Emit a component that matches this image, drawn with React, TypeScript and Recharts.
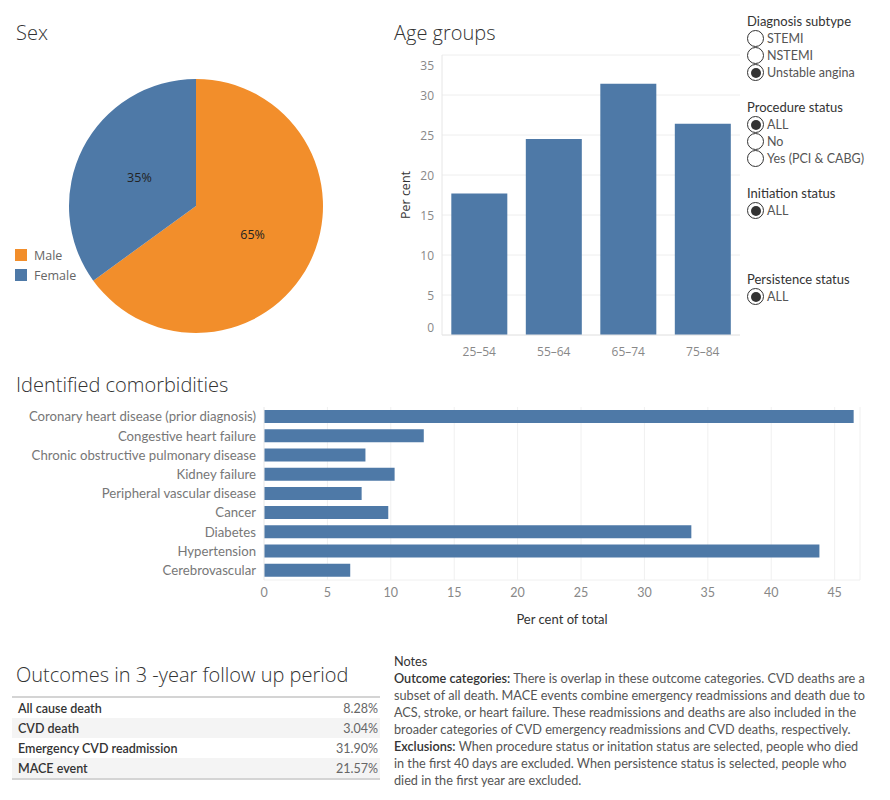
import React from 'react';
import { PieChart, Pie, Cell, BarChart, Bar, XAxis, YAxis, CartesianGrid } from 'recharts';

const sexLabels = ['Male', 'Female'];
const sexShares = [65, 35];

const ageGroups = ['25–54', '55–64', '65–74', '75–84'];
const agePercents = [17.7, 24.5, 31.4, 26.4];
const ageTicks = [0, 5, 10, 15, 20, 25, 30, 35];

const comorbidities = [
    'Coronary heart disease (prior diagnosis)',
    'Congestive heart failure',
    'Chronic obstructive pulmonary disease',
    'Kidney failure',
    'Peripheral vascular disease',
    'Cancer',
    'Diabetes',
    'Hypertension',
    'Cerebrovascular',
];
const comorbidityPercents = [46.5, 12.6, 8.0, 10.3, 7.7, 9.8, 33.7, 43.8, 6.8];
const totalTicks = [0, 5, 10, 15, 20, 25, 30, 35, 40, 45];

const outcomeNames = ['All cause death', 'CVD death', 'Emergency CVD readmission', 'MACE event'];
const outcomeRates = [8.28, 3.04, 31.9, 21.57];

const diagnosisOptions = ['STEMI', 'NSTEMI', 'Unstable angina'];
const procedureOptions = ['ALL', 'No', 'Yes (PCI & CABG)'];
const initiationOptions = ['ALL'];
const persistenceOptions = ['ALL'];

const BLUE = '#4e79a7';
const ORANGE = '#f28e2b';
const TITLE_FONT = '"Open Sans", sans-serif';
const BOOK_FONT = 'Lato, "Open Sans", sans-serif';
const RAD = Math.PI / 180;

const sexData = sexLabels.map((name, i) => ({ name, value: sexShares[i] }));
const ageData = ageGroups.map((group, i) => ({ group, pct: agePercents[i] }));
const comorbidityData = comorbidities.map((name, i) => ({ name, pct: comorbidityPercents[i] }));

const Title = ({ text, left, top }: { text: string; left: number; top: number }) => (
    <div style={{
        position: 'absolute', left, top, fontFamily: TITLE_FONT, fontWeight: 300,
        fontSize: 20, lineHeight: '24px', color: '#333', whiteSpace: 'nowrap',
    }}>{text}</div>
);

const PieLabel = (props: any) => {
    const { cx, cy, midAngle, outerRadius, value } = props;
    const r = outerRadius * 0.5;
    const x = cx + r * Math.cos(-midAngle * RAD);
    const y = cy + r * Math.sin(-midAngle * RAD);
    return (
        <text x={x} y={y} textAnchor="middle" dominantBaseline="central"
            fill="#222" fontSize={12.5} fontFamily={TITLE_FONT}>{`${value}%`}</text>
    );
};

// end labels are nudged inward so they stay inside the pane
const AgeTick = (props: any) => {
    const { x, y, payload } = props;
    const v = payload.value;
    const dy = v === 35 ? 10 : v === 0 ? -8 : 0;
    return (
        <text x={x} y={y + dy} textAnchor="end" dominantBaseline="central"
            fill="#888" fontSize={12} fontFamily={TITLE_FONT}>{v}</text>
    );
};

const AgeAxisLabel = (props: any) => {
    const { x, y, height } = props.viewBox;
    const lx = x + 25;
    const ly = y + height / 2;
    return (
        <text x={lx} y={ly} transform={`rotate(-90 ${lx} ${ly})`} textAnchor="middle" dominantBaseline="central"
            fill="#333" fontSize={12.5} fontFamily={TITLE_FONT}>Per cent</text>
    );
};

const Radio = ({ label, checked }: { label: string; checked: boolean }) => (
    <div style={{ display: 'flex', alignItems: 'center', height: 17, fontFamily: BOOK_FONT, fontSize: 12.5, color: '#555' }}>
        <div style={{
            width: 17, height: 17, borderRadius: '50%', border: '1px solid #333', boxSizing: 'border-box',
            display: 'flex', alignItems: 'center', justifyContent: 'center', marginRight: 3, background: '#fff',
        }}>
            {checked && <div style={{ width: 10, height: 10, borderRadius: '50%', background: '#333' }} />}
        </div>
        {label}
    </div>
);

const Filter = ({ title, options, selected, top }: { title: string; options: string[]; selected: string; top: number }) => (
    <div style={{ position: 'absolute', left: 747, top }}>
        <div style={{ fontFamily: BOOK_FONT, fontSize: 13, lineHeight: '16px', color: '#333', marginBottom: 1 }}>{title}</div>
        {options.map(o => <Radio key={o} label={o} checked={o === selected} />)}
    </div>
);

const noteLines: [string, string][] = [
    ['Outcome categories:', ' There is overlap in these outcome categories. CVD deaths are a'],
    ['', 'subset of all death. MACE events combine emergency readmissions and death due to'],
    ['', 'ACS, stroke, or heart failure. These readmissions and deaths are also included in the'],
    ['', 'broader categories of CVD emergency readmissions and CVD deaths, respectively.'],
    ['Exclusions:', ' When procedure status or initation status are selected, people who died'],
    ['', 'in the first 40 days are excluded. When persistence status is selected, people who'],
    ['', 'died in the first year are excluded.'],
];

const App: React.FC = () => {
    return (
        <div style={{ position: 'absolute', left: 0, top: 0, width: 890, height: 800, background: '#fff', overflow: 'hidden' }}>
            {/* Sex */}
            <Title text="Sex" left={16} top={21} />
            <div style={{ position: 'absolute', left: 0, top: 0 }}>
                <PieChart width={340} height={345} margin={{ top: 0, right: 0, bottom: 0, left: 0 }}>
                    <Pie data={sexData} dataKey="value" nameKey="name" cx={196} cy={206} outerRadius={127}
                        startAngle={90} endAngle={-270} stroke="none" label={PieLabel} labelLine={false}
                        isAnimationActive={false}>
                        {sexData.map((d, i) => <Cell key={d.name} fill={i === 0 ? ORANGE : BLUE} />)}
                    </Pie>
                </PieChart>
            </div>
            <div style={{ position: 'absolute', left: 15, top: 245, fontFamily: TITLE_FONT, fontSize: 12.5, color: '#666' }}>
                {sexLabels.map((name, i) => (
                    <div key={name} style={{ display: 'flex', alignItems: 'center', height: 20 }}>
                        <div style={{ width: 12, height: 12, background: i === 0 ? ORANGE : BLUE, marginRight: 7 }} />
                        {name}
                    </div>
                ))}
            </div>

            {/* Age groups */}
            <Title text="Age groups" left={394} top={21} />
            <div style={{ position: 'absolute', left: 380, top: 40 }}>
                <BarChart width={365} height={330} data={ageData} margin={{ top: 15, right: 5, left: 0, bottom: 0 }}
                    barCategoryGap="12.5%">
                    <CartesianGrid vertical={false} stroke="#eeeeee" />
                    <XAxis dataKey="group" height={35} tickLine={false} axisLine={{ stroke: '#e6e6e6' }}
                        tick={{ fill: '#888', fontSize: 12, fontFamily: TITLE_FONT }} tickMargin={6} />
                    <YAxis type="number" domain={[0, 35]} ticks={ageTicks} width={62} tickLine={false}
                        axisLine={{ stroke: '#e6e6e6' }} tick={AgeTick} label={AgeAxisLabel} />
                    <Bar dataKey="pct" fill={BLUE} isAnimationActive={false} />
                </BarChart>
            </div>

            {/* Filters */}
            <Filter title="Diagnosis subtype" options={diagnosisOptions} selected="Unstable angina" top={13} />
            <Filter title="Procedure status" options={procedureOptions} selected="ALL" top={99} />
            <Filter title="Initiation status" options={initiationOptions} selected="ALL" top={185} />
            <Filter title="Persistence status" options={persistenceOptions} selected="ALL" top={271} />

            {/* Identified comorbidities */}
            <Title text="Identified comorbidities" left={16} top={373} />
            <div style={{ position: 'absolute', left: 0, top: 400 }}>
                <BarChart width={880} height={230} data={comorbidityData} layout="vertical"
                    margin={{ top: 7, right: 20, left: 0, bottom: 0 }} barSize={13}>
                    <CartesianGrid horizontal={false} stroke="#f0f0f0" />
                    <XAxis type="number" domain={[0, 47]} ticks={totalTicks} height={50} tickLine={false}
                        axisLine={{ stroke: '#f0f0f0' }} tick={{ fill: '#888', fontSize: 12.5, fontFamily: BOOK_FONT }}
                        tickMargin={2}
                        label={{ value: 'Per cent of total', position: 'insideBottom', offset: 6, fill: '#333', fontSize: 13, fontFamily: BOOK_FONT }} />
                    <YAxis type="category" dataKey="name" width={264} tickLine={false} axisLine={{ stroke: '#f0f0f0' }}
                        tick={{ fill: '#777', fontSize: 13.2, fontFamily: BOOK_FONT }} interval={0} />
                    <Bar dataKey="pct" fill={BLUE} isAnimationActive={false} />
                </BarChart>
            </div>

            {/* Outcomes table */}
            <Title text="Outcomes in 3 -year follow up period" left={16} top={663} />
            <div style={{ position: 'absolute', left: 12, top: 696, width: 368, borderTop: '2px solid #d4d4d4', borderBottom: '2px solid #d4d4d4' }}>
                {outcomeNames.map((name, i) => (
                    <div key={name} style={{
                        display: 'flex', justifyContent: 'space-between', alignItems: 'center', height: 20,
                        background: i % 2 === 1 ? '#f4f4f4' : '#fff', fontFamily: BOOK_FONT, fontSize: 12.5,
                        padding: '0 2px 0 6px',
                    }}>
                        <span style={{ color: '#333', fontWeight: 600 }}>{name}</span>
                        <span style={{ color: '#666' }}>{`${outcomeRates[i].toFixed(2)}%`}</span>
                    </div>
                ))}
            </div>

            {/* Notes */}
            <div style={{ position: 'absolute', left: 394, top: 653, fontFamily: BOOK_FONT, fontSize: 12.7, lineHeight: '17px', color: '#555', whiteSpace: 'nowrap' }}>
                <div style={{ color: '#333' }}>Notes</div>
                {noteLines.map(([bold, rest], i) => (
                    <div key={i}>
                        {bold && <span style={{ color: '#333', fontWeight: 600 }}>{bold}</span>}
                        {rest}
                    </div>
                ))}
            </div>
        </div>
    );
};

export default App;
